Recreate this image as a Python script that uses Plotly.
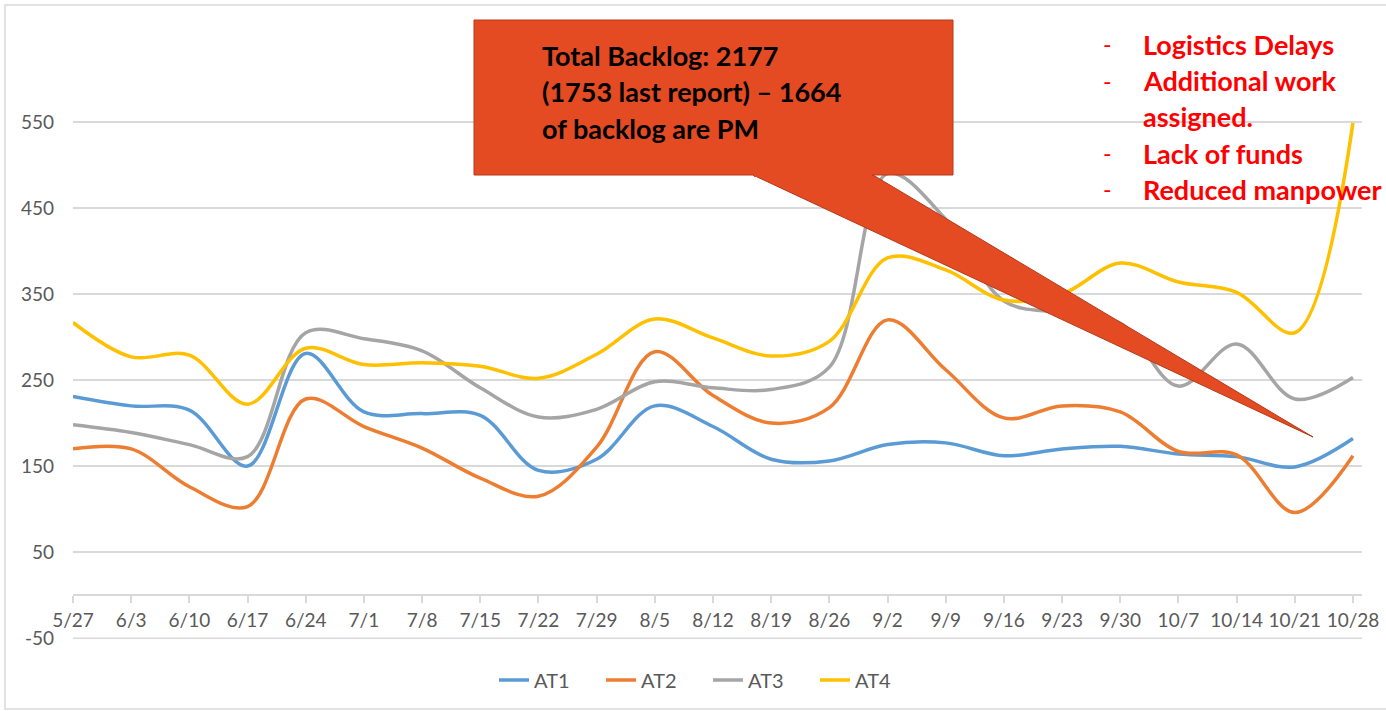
import plotly.graph_objects as go

dates = ["5/27","6/3","6/10","6/17","6/24","7/1","7/8","7/15","7/22","7/29","8/5","8/12",
         "8/19","8/26","9/2","9/9","9/16","9/23","9/30","10/7","10/14","10/21","10/28"]
AT1 = [231, 220, 215, 150, 281, 213, 211, 209, 145, 158, 220, 196, 158, 156, 175, 177, 162, 170, 173, 164, 161, 149, 182]
AT2 = [170, 170, 126, 103, 228, 196, 171, 136, 115, 172, 283, 232, 200, 218, 320, 262, 206, 220, 213, 167, 163, 96, 162]
AT3 = [198, 189, 175, 161, 305, 298, 284, 241, 207, 216, 248, 241, 239, 265, 490, 437, 342, 328, 316, 243, 292, 228, 253]
AT4 = [317, 277, 279, 222, 287, 268, 270, 266, 252, 280, 321, 299, 278, 295, 392, 378, 343, 350, 386, 364, 352, 305, 549]

series = [("AT1", AT1, "#5B9BD5"), ("AT2", AT2, "#ED7D31"),
          ("AT3", AT3, "#A5A5A5"), ("AT4", AT4, "#FFC000")]

y_ticks = [-50, 50, 150, 250, 350, 450, 550]
y_tick_text = ["-50", "50", "150", "250", "350", "450", "550"]

callout_lines = ["Total Backlog: 2177", "(1753 last report) \u2013 1664", "of backlog are PM"]
reasons = ["Logistics Delays", "Additional work", "assigned.", "Lack of funds", "Reduced manpower"]
reason_dash = [True, True, False, True, True]

W, H = 1386, 711
ML, MR, MT, MB = 73, 24, 79, 72
PW, PH = W - ML - MR, H - MT - MB
Y_MIN, Y_MAX = -51, 600

def px(x):
    return (x - ML) / PW

def py(y):
    return (H - MB - y) / PH

fig = go.Figure()
for name, vals, col in series:
    fig.add_trace(go.Scatter(x=dates, y=vals, name=name, mode="lines",
                             line=dict(color=col, width=3.5, shape="spline", smoothing=1.0)))

FONT = "Lato, 'Open Sans', sans-serif"
shapes = []
# outer chart border
shapes.append(dict(type="rect", xref="paper", yref="paper", x0=px(5), x1=px(1400), y0=py(709), y1=py(5),
                   line=dict(color="#D9D9D9", width=1.5), fillcolor="rgba(0,0,0,0)", layer="below"))
# lowest gridline
shapes.append(dict(type="line", xref="paper", yref="y", x0=0, x1=1, y0=y_ticks[0], y1=y_ticks[0],
                   line=dict(color="#D9D9D9", width=1.5), layer="below"))
# callout pointer + box
path = "M {} {} L {} {} L {} {} Z".format(px(753), py(175), px(873), py(175), px(1313), py(437))
shapes.append(dict(type="path", xref="paper", yref="paper", path=path,
                   fillcolor="#E44B22", line=dict(color="#B5391A", width=1), layer="above"))
shapes.append(dict(type="rect", xref="paper", yref="paper", x0=px(474), x1=px(953), y0=py(175), y1=py(20),
                   fillcolor="#E44B22", line=dict(color="#B5391A", width=1), layer="above"))
shapes.append(dict(type="rect", xref="paper", yref="paper", x0=px(754), x1=px(872), y0=py(177), y1=py(170),
                   fillcolor="#E44B22", line=dict(width=0), layer="above"))

annotations = []
FS = 27
for i, t in enumerate(callout_lines):
    base = 65 + i * 36.5
    annotations.append(dict(xref="paper", yref="paper", x=px(540), y=py(base - 0.36 * FS),
                            xanchor="left", yanchor="middle", text="<b>" + t + "</b>", showarrow=False,
                            font=dict(family=FONT, size=FS, color="#000000")))
for i, (t, d) in enumerate(zip(reasons, reason_dash)):
    base = 54 + i * 36.3
    annotations.append(dict(xref="paper", yref="paper", x=px(1141), y=py(base - 0.36 * FS),
                            xanchor="left", yanchor="middle", text="<b>" + t + "</b>", showarrow=False,
                            font=dict(family=FONT, size=FS, color="#FF0000")))
    if d:
        annotations.append(dict(xref="paper", yref="paper", x=px(1107), y=py(base - 0.36 * FS),
                                xanchor="center", yanchor="middle", text="-", showarrow=False,
                                font=dict(family=FONT, size=FS - 4, color="#FF0000")))

fig.update_layout(
    width=W, height=H,
    margin=dict(l=ML, r=MR, t=MT, b=MB, pad=0, autoexpand=False),
    paper_bgcolor="white", plot_bgcolor="white",
    font=dict(family=FONT, color="#595959"),
    showlegend=True,
    legend=dict(orientation="h", x=px(708), xanchor="center", y=py(680), yanchor="middle",
                font=dict(size=20, color="#595959"), bgcolor="rgba(0,0,0,0)",
                entrywidth=62, entrywidthmode="pixels"),
    xaxis=dict(type="category", range=[0, 22.155], anchor="free", position=(0 - Y_MIN) / (Y_MAX - Y_MIN),
               showgrid=False, showline=True, linecolor="#D9D9D9", linewidth=1.5,
               ticks="outside", ticklen=7, tickcolor="#D9D9D9", tickwidth=1.5,
               tickfont=dict(size=19, color="#595959"), ticklabelstandoff=1, zeroline=False),
    yaxis=dict(range=[Y_MIN, Y_MAX], tickmode="array", tickvals=y_ticks, ticktext=y_tick_text,
               showgrid=True, gridcolor="#D9D9D9", gridwidth=1.5,
               zeroline=False, showline=False, ticks="", ticklabelstandoff=18,
               tickfont=dict(size=19, color="#595959")),
    shapes=shapes, annotations=annotations,
)

fig.write_html("out.html", config={"displayModeBar": False},
               post_script="document.body.style.margin='0';document.body.style.overflow='hidden';")
